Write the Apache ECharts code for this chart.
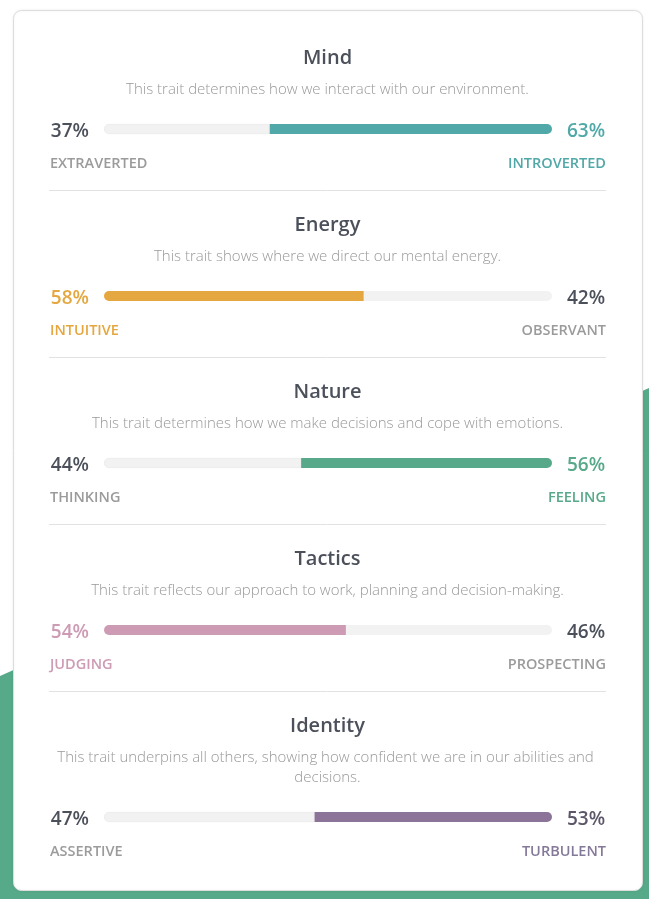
<!DOCTYPE html>
<html>
<head>
<meta charset="utf-8">
<script src="https://cdn.jsdelivr.net/npm/echarts@6/dist/echarts.min.js"></script>
<style>
html,body{margin:0;padding:0;background:#fff;}
#chart{width:649px;height:899px;}
</style>
</head>
<body>
<div id="chart"></div>
<script>
const traits = ['Mind', 'Energy', 'Nature', 'Tactics', 'Identity'];
const descriptions = [
  'This trait determines how we interact with our environment.',
  'This trait shows where we direct our mental energy.',
  'This trait determines how we make decisions and cope with emotions.',
  'This trait reflects our approach to work, planning and decision-making.',
  'This trait underpins all others, showing how confident we are in our abilities and decisions.'
];
const leftLabels = ['EXTRAVERTED', 'INTUITIVE', 'THINKING', 'JUDGING', 'ASSERTIVE'];
const rightLabels = ['INTROVERTED', 'OBSERVANT', 'FEELING', 'PROSPECTING', 'TURBULENT'];
const leftValues = [37, 58, 44, 54, 47];
const rightValues = [63, 42, 56, 46, 53];
const dominantSide = ['right', 'left', 'right', 'left', 'right'];
const traitColors = ['#51a8a8', '#e5a73f', '#57a98a', '#cd9bb3', '#8c7499'];

const font = "'Open Sans', 'Noto Sans', sans-serif";
const trackColor = '#f2f2f2';
const darkText = '#4b505b';
const grayText = '#9b9b9b';

// layout
const barLeft = 104, barRight = 552;
const titleY = [56, 223, 390, 557, 724];
const descY = [88, 255, 422, 589, 756];
const barY = [129, 296, 463, 630, 817];
const labelY = [162, 329, 496, 663, 850];
const dividerY = [190, 357, 524, 691];
const barH = 10;

const grids = [], xAxes = [], yAxes = [], series = [], graphics = [];

graphics.push({
  type: 'polygon', z: -10,
  shape: { points: [[0, 676], [649, 388], [649, 899], [0, 899]] },
  style: { fill: '#56aa8a' }
});
graphics.push({
  type: 'rect', z: -5,
  shape: { x: 13.5, y: 10.5, width: 629, height: 880, r: 8 },
  style: { fill: '#ffffff', stroke: '#dddddd', lineWidth: 1, shadowBlur: 3, shadowColor: 'rgba(0,0,0,0.06)' }
});

traits.forEach((t, i) => {
  const dom = dominantSide[i];
  const col = traitColors[i];
  grids.push({ left: barLeft, width: barRight - barLeft, top: barY[i] - barH / 2, height: barH });
  xAxes.push({ gridIndex: i, type: 'value', min: 0, max: 100, show: false });
  yAxes.push({ gridIndex: i, type: 'category', data: [t], show: false });
  const leftCol = dom === 'left' ? col : trackColor;
  const rightCol = dom === 'right' ? col : trackColor;
  const pctStyle = { fontFamily: font, fontSize: 19, fontWeight: 600, offset: [0, 2.5] };
  series.push({
    type: 'bar', xAxisIndex: i, yAxisIndex: i, stack: 's' + i, barWidth: barH,
    data: [leftValues[i]], silent: true,
    itemStyle: { color: leftCol, borderRadius: [5, 0, 0, 5],
      borderColor: dom === 'left' ? leftCol : '#e6e6e6', borderWidth: dom === 'left' ? 0 : 0.6 },
    label: Object.assign({ show: true, position: 'left', distance: 15, formatter: '{c}%',
      color: dom === 'left' ? col : darkText }, pctStyle)
  });
  series.push({
    type: 'bar', xAxisIndex: i, yAxisIndex: i, stack: 's' + i, barWidth: barH,
    data: [rightValues[i]], silent: true,
    itemStyle: { color: rightCol, borderRadius: [0, 5, 5, 0] },
    label: Object.assign({ show: true, position: 'right', distance: 15, formatter: '{c}%',
      color: dom === 'right' ? (i === 4 ? '#5d5668' : col) : darkText }, pctStyle)
  });

  graphics.push({
    type: 'text', x: 327.5, y: titleY[i] + 2,
    style: { text: t, fontFamily: font, fontSize: 20, fontWeight: 600, fill: '#4b505b',
      align: 'center', verticalAlign: 'middle' }
  });
  graphics.push({
    type: 'text', x: 327.5, y: descY[i] - 8,
    style: { text: descriptions[i], fontFamily: font, fontSize: 15, fontWeight: 300, fill: '#999999',
      align: 'center', verticalAlign: 'top', width: 570, overflow: 'break', lineHeight: 20 }
  });
  graphics.push({
    type: 'text', x: 50, y: labelY[i] + 2,
    style: { text: leftLabels[i], fontFamily: font, fontSize: 14.5, fontWeight: 600,
      fill: dom === 'left' ? col : grayText, align: 'left', verticalAlign: 'middle' }
  });
  graphics.push({
    type: 'text', x: 606, y: labelY[i] + 2,
    style: { text: rightLabels[i], fontFamily: font, fontSize: 14.5, fontWeight: 600,
      fill: dom === 'right' ? (i === 4 ? '#85799a' : col) : grayText, align: 'right', verticalAlign: 'middle' }
  });
  if (i < dividerY.length) {
    graphics.push({
      type: 'line', shape: { x1: 49, y1: dividerY[i] + 0.5, x2: 606, y2: dividerY[i] + 0.5 },
      style: { stroke: '#e2e2e2', lineWidth: 1 }
    });
  }
});

const chart = echarts.init(document.getElementById('chart'), null, { renderer: 'canvas' });
chart.setOption({
  animation: false,
  backgroundColor: '#ffffff',
  grid: grids, xAxis: xAxes, yAxis: yAxes, series: series,
  graphic: graphics
});
</script>
</body>
</html>
